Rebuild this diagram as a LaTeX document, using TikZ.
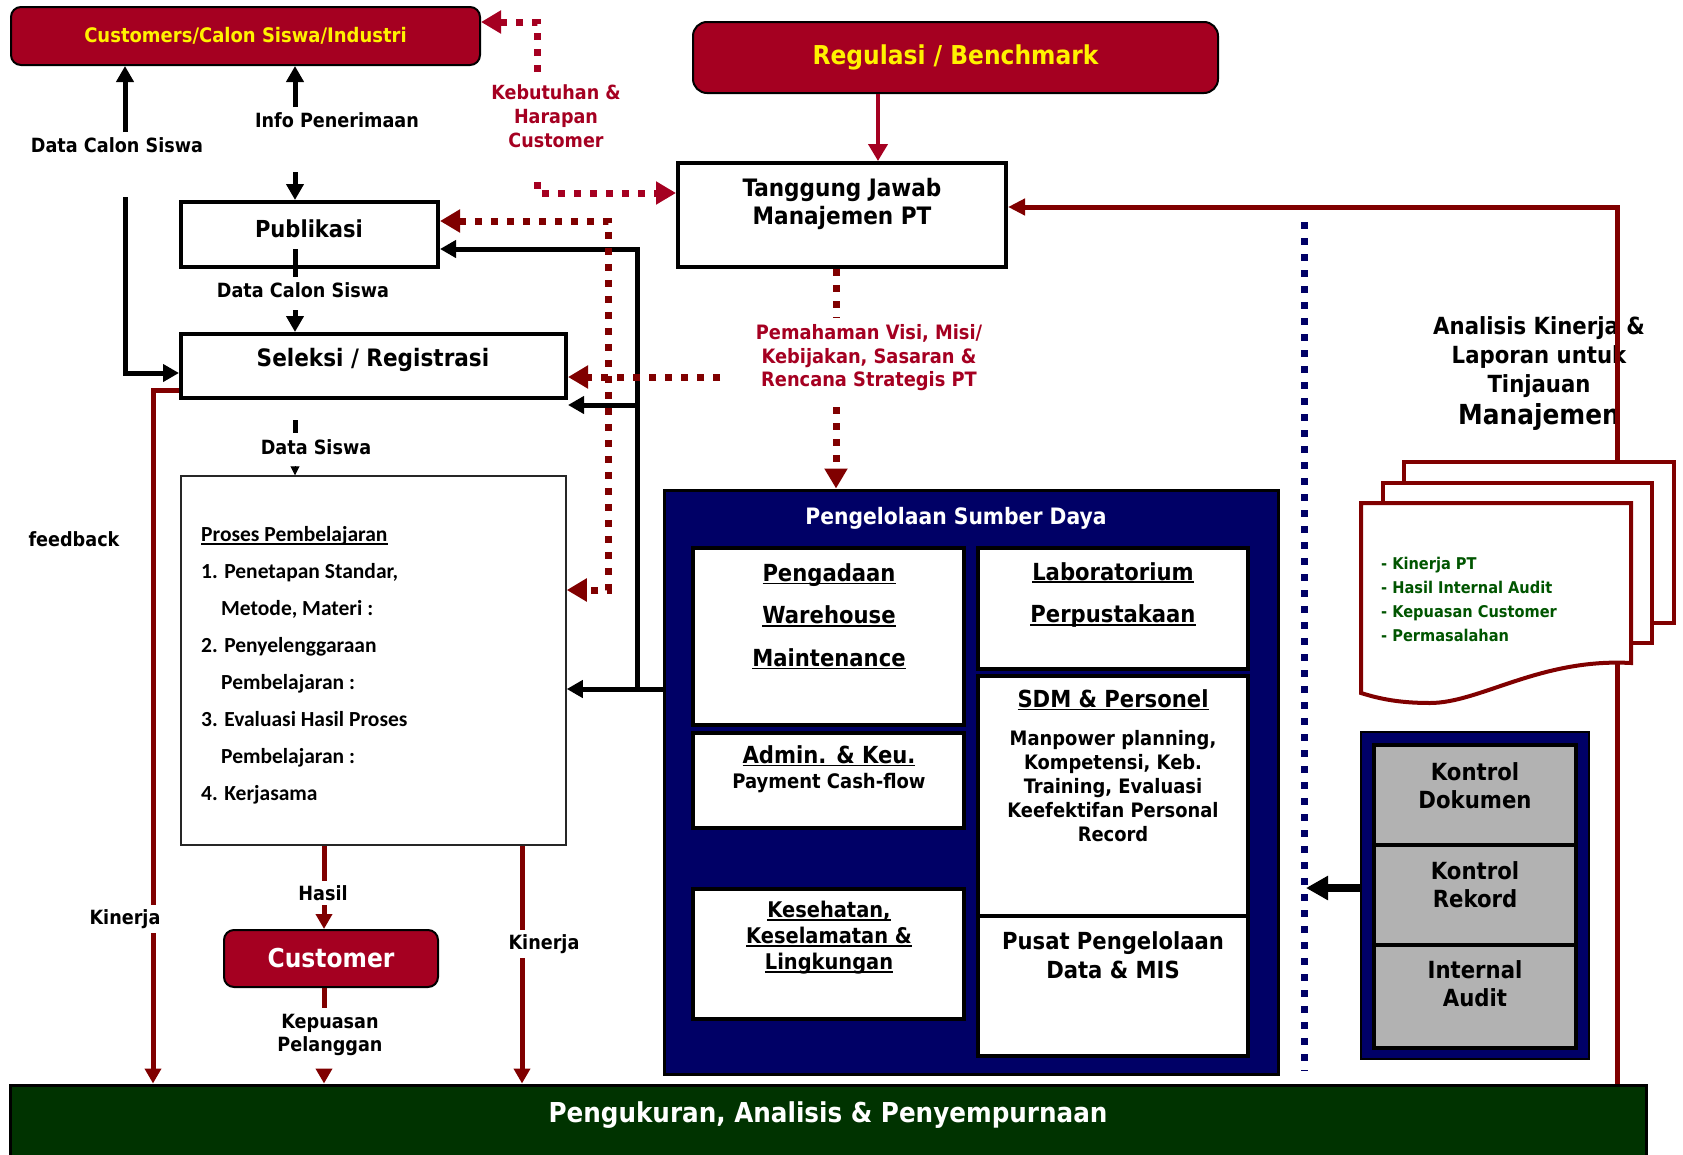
\documentclass[tikz,border=0pt]{standalone}
\usepackage{fontspec}
\usetikzlibrary{arrows.meta}
\newfontfamily\tah{DejaVu Sans Condensed}
\newfontfamily\calib{Carlito}
\definecolor{maroonc}{RGB}{128,0,0}
\definecolor{crim}{RGB}{165,0,33}
\definecolor{navyb}{RGB}{0,0,102}
\definecolor{dgreen}{RGB}{0,51,0}
\definecolor{ggrey}{RGB}{178,178,178}
\definecolor{tgreen}{RGB}{0,85,0}
\newsavebox\ulbox
\newcommand\myul[1]{\sbox\ulbox{#1}\rlap{\rule[-3pt]{\wd\ulbox}{1.8pt}}\usebox\ulbox}
\newcommand\fz[2]{\fontsize{#1}{#2}\selectfont}
\tikzset{
  lab/.style={font=\tah\bfseries\fz{19.6}{23.5}, align=center, inner sep=0pt},
  wlab/.style={lab, fill=white, inner sep=4pt},
  hd/.style={font=\tah\bfseries\fz{23.5}{42.5}, align=center, inner sep=0pt},
  box/.style={draw=black, line width=4pt, fill=white, inner sep=0pt},
  redbox/.style={draw=black, line width=2pt, fill=crim, rounded corners=10pt, inner sep=0pt},
  greybox/.style={draw=black, line width=4pt, fill=ggrey, minimum width=202pt, inner sep=0pt},
  blk/.style={draw=black, line width=5pt, -{Triangle[length=16pt,width=17pt]}},
  blkline/.style={draw=black, line width=5pt},
  redarr/.style={draw=maroonc, line width=5pt, -{Triangle[length=15pt,width=16pt]}},
  redline/.style={draw=maroonc, line width=5pt},
  mdot/.style={draw=maroonc, line width=7pt, dash pattern=on 7pt off 9pt, -{Triangle[length=20pt,width=22pt]}},
  cdot/.style={mdot, draw=crim},
  sheet/.style={draw=maroonc, line width=4pt, fill=white},
}
\begin{document}
\begin{tikzpicture}[x=1pt,y=-1pt]
\useasboundingbox (0,0) rectangle (1683,1154);
% bottom bar
\node[draw=black,line width=3pt,fill=dgreen,minimum width=1636pt,minimum height=80pt,inner sep=0pt] (bar) at (828,1125) {};
\node[font=\tah\bfseries\fz{27.4}{32},text=white,inner sep=0pt] (bart) at (828,1115) {Pengukuran, Analisis \& Penyempurnaan};
% top boxes
\node[redbox,minimum width=469pt,minimum height=58pt,text=yellow,font=\tah\bfseries\fz{20}{24}] (cust) at (245.5,36) {Customers/Calon Siswa/Industri};
\node[redbox,rounded corners=14pt,minimum width=525pt,minimum height=71pt,text=yellow,font=\tah\bfseries\fz{26}{30}] (reg) at (955.5,57.5) {Regulasi / Benchmark};
\node[box,minimum width=328pt,minimum height=104pt] (tj) at (842,215) {};
\node[lab,font=\tah\bfseries\fz{24}{28}] (tjt) at (842,204) {Tanggung Jawab\\Manajemen PT};
\node[box,minimum width=257pt,minimum height=65pt] (pub) at (309.5,234.5) {};
\node[lab,font=\tah\bfseries\fz{23.4}{28}] (pubt) at (309,229) {Publikasi};
\node[box,minimum width=385pt,minimum height=64pt] (sel) at (373.5,366) {};
\node[lab,font=\tah\bfseries\fz{24}{28}] (selt) at (373,360) {Seleksi / Registrasi};
\node[draw=black!85,line width=1.5pt,fill=white,minimum width=385pt,minimum height=369pt,inner sep=0pt] (proses) at (373.5,660.5) {};
\node[anchor=west,align=left,inner sep=0pt,font=\calib\bfseries\fz{21.5}{37}] (prosest) at (201,665.5) {\myul{Proses Pembelajaran}\\1. Penetapan Standar,\\\hspace*{20pt}Metode, Materi :\\2. Penyelenggaraan\\\hspace*{20pt}Pembelajaran :\\3. Evaluasi Hasil Proses\\\hspace*{20pt}Pembelajaran :\\4. Kerjasama};
\node[redbox,minimum width=214pt,minimum height=57pt,text=white,font=\tah\bfseries\fz{26}{30}] (customer) at (331,958.5) {Customer};
% resources
\node[draw=black,line width=3pt,fill=navyb,minimum width=614pt,minimum height=584pt,inner sep=0pt] (psd) at (971,782) {};
\node[font=\tah\bfseries\fz{22.6}{27},text=white,inner sep=0pt] (psdt) at (956,518) {Pengelolaan Sumber Daya};
\node[box,minimum width=271pt,minimum height=177pt] (peng) at (828.5,636.5) {};
\node[box,minimum width=271pt,minimum height=95pt] (adm) at (828.5,780.5) {};
\node[box,minimum width=271pt,minimum height=130pt] (k3) at (828.5,954) {};
\node[box,minimum width=270pt,minimum height=121pt] (labo) at (1113,608.5) {};
\node[box,minimum width=270pt,minimum height=240pt] (sdm) at (1113,796) {};
\node[box,minimum width=270pt,minimum height=140pt] (pusat) at (1113,986) {};
\node[hd] (pengt) at (829,616.5) {\myul{Pengadaan}\\\myul{Warehouse}\\\myul{Maintenance}};
\node[hd] (admt) at (829,756) {\myul{Admin. \& Keu.}};
\node[lab,font=\tah\bfseries\fz{20}{24}] (admt2) at (829,783) {Payment Cash-flow};
\node[lab,font=\tah\bfseries\fz{21.6}{26}] (k3t) at (829,938) {\myul{Kesehatan,}\\\myul{Keselamatan \&}\\\myul{Lingkungan}};
\node[hd] (labt) at (1113,595) {\myul{Laboratorium}\\\myul{Perpustakaan}};
\node[hd] (sdmt) at (1113,700) {\myul{SDM \& Personel}};
\node[lab,font=\tah\bfseries\fz{19.9}{24}] (sdmt2) at (1113,786) {Manpower planning,\\Kompetensi, Keb.\\Training, Evaluasi\\Keefektifan Personal\\Record};
\node[lab,font=\tah\bfseries\fz{23.5}{29}] (pusatt) at (1113,955.5) {Pusat Pengelolaan\\Data \& MIS};
% control
\node[draw=black,line width=2pt,fill=navyb,minimum width=228pt,minimum height=327pt,inner sep=0pt] (kon) at (1475,895.5) {};
\node[greybox,minimum height=100pt] (kd) at (1475,795) {};
\node[greybox,minimum height=100pt] (kr) at (1475,895) {};
\node[greybox,minimum height=103pt] (ia) at (1475,996.5) {};
\node[lab,font=\tah\bfseries\fz{23.6}{28}] (kdt) at (1475,786) {Kontrol\\Dokumen};
\node[lab,font=\tah\bfseries\fz{23.6}{28}] (krt) at (1475,885) {Kontrol\\Rekord};
\node[lab,font=\tah\bfseries\fz{23.6}{28}] (iat) at (1475,983.5) {Internal\\Audit};
% dotted blue separator
\coordinate (dtop) at (1304,222);
\coordinate (dbot) at (1304,1071);
\draw[draw=navyb,line width=7pt,dash pattern=on 7pt off 9pt] (dtop) -- (dbot);
\coordinate (dl) at (1306,888);
\draw[draw=black,line width=8pt,-{Triangle[length=22pt,width=23pt]}] (kon.west |- dl) -- (dl);
% analysis text and right loop
\node[lab,font=\tah\bfseries\fz{23.6}{29}] (ant) at (1539,357) {Analisis Kinerja \&\\Laporan untuk\\Tinjauan};
\node[lab,font=\tah\bfseries\fz{27.6}{32}] (ant2) at (1539,417) {Manajemen};
\coordinate (rc) at (1617,207);
\draw[redline,-{Triangle[length=17pt,width=16pt]}] (bar.north -| rc) -- (rc) -- (tj.east |- rc);
\draw[sheet] (1404,462) rectangle (1674,623);
\draw[sheet] (1383,483) rectangle (1652,643);
\draw[sheet] (1361,503) -- (1631,503) -- (1631,663) .. controls (1540,658) and (1480,703) .. (1430,703) .. controls (1400,703) and (1380,699) .. (1361,693) -- cycle;
\node[anchor=west,align=left,inner sep=0pt,text=tgreen,font=\tah\bfseries\fz{16.2}{24}] (stackt) at (1381,599) {- Kinerja PT\\- Hasil Internal Audit\\- Kepuasan Customer\\- Permasalahan};
% black connectors
\coordinate (c1) at (125,132);
\coordinate (c2) at (125,197);
\coordinate (c2b) at (125,373);
\coordinate (c3) at (295,107);
\coordinate (c4) at (295,172);
\coordinate (c5) at (295,249);
\coordinate (c5b) at (295,277);
\coordinate (c6) at (295,310);
\coordinate (c7) at (295,420);
\coordinate (c7b) at (295,433);
\coordinate (c8) at (295,466);
\coordinate (v1) at (637,689);
\coordinate (v2) at (637,249);
\coordinate (v3) at (637,405);
\draw[blk] (c1) -- (cust.south -| c1);
\draw[blk] (c2) -- (c2b) -- (sel.west |- c2b);
\draw[blk] (c3) -- (cust.south -| c3);
\draw[blk] (c4) -- (pub.north -| c4);
\draw[blkline] (c5) -- (c5b);
\draw[blk] (c6) -- (sel.north -| c6);
\draw[blkline] (c7) -- (c7b);
\draw[draw=black,line width=1pt,-{Triangle[length=9pt,width=9pt]}] (c8) -- (proses.north -| c8);
\draw[blk] (psd.west |- v1) -- (proses.east |- v1);
\draw[blk] (v1) -- (v2) -- (pub.east |- v2);
\draw[blk] (v3) -- (sel.east |- v3);
% maroon dotted
\coordinate (m1) at (608,221);
\coordinate (m2) at (608,590);
\coordinate (m3) at (720,377);
\coordinate (m4) at (836,318);
\coordinate (m5) at (836,407);
\draw[mdot,{Triangle[length=20pt,width=22pt]}-{Triangle[length=20pt,width=22pt]}] (pub.east |- m1) -- (m1) -- (m2) -- (proses.east |- m2);
\draw[mdot] (m3) -- (sel.east |- m3);
\draw[mdot,-] (tj.south -| m4) -- (m4);
\draw[mdot] (m5) -- (psd.north -| m5);
% crimson dotted
\coordinate (k1) at (537,72);
\coordinate (k1b) at (537,22);
\coordinate (k2) at (537,182);
\coordinate (k2b) at (537,193);
\draw[cdot] (k1) -- (k1b) -- (cust.east |- k1b);
\draw[cdot] (k2) -- (k2b) -- (tj.west |- k2b);
\coordinate (rg) at (878,0);
\draw[draw=crim,line width=4pt,-{Triangle[length=17pt,width=19pt]}] (reg.south -| rg) -- (tj.north -| rg);
% maroon flows
\coordinate (f1) at (153,390);
\coordinate (h1) at (324,0);
\coordinate (h2) at (324,1008);
\coordinate (h3) at (324,1073);
\coordinate (kr2) at (522,0);
\draw[redarr] (sel.west |- f1) -- (f1) -- (bar.north -| f1);
\draw[redarr] (proses.south -| h1) -- (customer.north -| h1);
\draw[redline] (customer.south -| h1) -- (h2);
\draw[redarr] (h3) -- (bar.north -| h3);
\draw[redarr] (proses.south -| kr2) -- (bar.north -| kr2);
% labels
\node[lab] (l1) at (117,145) {Data Calon Siswa};
\node[lab] (l2) at (337,120) {Info Penerimaan};
\node[lab] (l3) at (303,290) {Data Calon Siswa};
\node[lab] (l4) at (316,447) {Data Siswa};
\node[lab] (l5) at (74,539) {feedback};
\node[wlab] (l6) at (125,919) {Kinerja};
\node[wlab] (l7) at (323,893) {Hasil};
\node[lab,font=\tah\bfseries\fz{19.6}{23}] (l8) at (330,1035) {Kepuasan\\Pelanggan};
\node[wlab] (l9) at (544,944) {Kinerja};
\node[lab,text=crim,font=\tah\bfseries\fz{19.5}{24}] (l10) at (556,116) {Kebutuhan \&\\Harapan\\Customer};
\node[lab,text=crim,font=\tah\bfseries\fz{19.8}{23.5}] (l11) at (869,358) {Pemahaman Visi, Misi/\\Kebijakan, Sasaran \&\\Rencana Strategis PT};
\end{tikzpicture}
\end{document}
